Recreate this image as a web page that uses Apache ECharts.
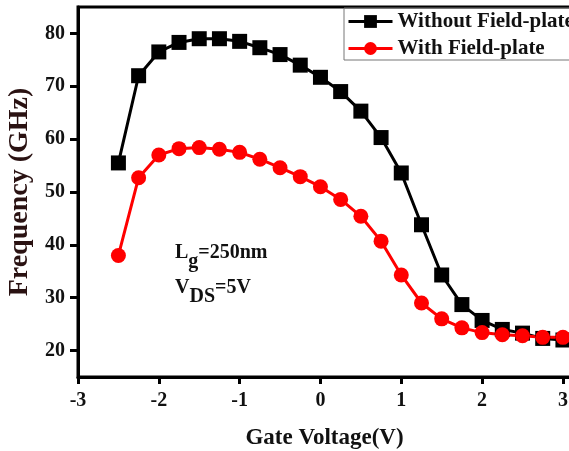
<!DOCTYPE html>
<html lang="en">
<head>
    <meta charset="UTF-8">
    <title>Frequency vs Gate Voltage</title>
    <script src="https://cdn.jsdelivr.net/npm/echarts@6/dist/echarts.min.js"></script>
    <style type="text/css">
        html, body { margin: 0; padding: 0; background: #fff; }
        #main { width: 569px; height: 451px; }
    </style>
</head>
<body>
    <div id="main"></div>
    <script type="text/javascript">
    // gate voltage (V)
    var gateVoltage = [-2.5, -2.25, -2, -1.75, -1.5, -1.25, -1, -0.75, -0.5, -0.25, 0, 0.25,
        0.5, 0.75, 1, 1.25, 1.5, 1.75, 2, 2.25, 2.5, 2.75, 3];
    // frequency (GHz)
    var withoutFP = [55.5, 72, 76.5, 78.3, 79, 79, 78.5, 77.3, 76, 74, 71.7, 69,
        65.3, 60.3, 53.6, 43.8, 34.3, 28.7, 25.7, 24, 23.3, 22.3, 22];
    var withFP = [38, 52.7, 57, 58.2, 58.4, 58.1, 57.5, 56.2, 54.6, 52.9, 51, 48.6,
        45.4, 40.7, 34.3, 29, 26, 24.3, 23.4, 23, 22.8, 22.5, 22.5];
    var xTicks = [-3, -2, -1, 0, 1, 2, 3];
    var yTicks = [20, 30, 40, 50, 60, 70, 80];

    function pairs(xs, ys) {
        return xs.map(function(x, i) { return [x, ys[i]]; });
    }

    var font = 'Liberation Serif';
    var myChart = echarts.init(document.getElementById('main'));

    var option = {
        backgroundColor: '#fff',
        animation: false,
        grid: {
            left: 78, top: 7, width: 493, height: 370,
            containLabel: false,
            outerBoundsMode: 'none',
            show: true, borderColor: '#000', borderWidth: 3
        },
        legend: {
            orient: 'vertical',
            left: 344, top: 8,
            padding: [3, 40, 1, 3],
            itemGap: 6,
            itemWidth: 44, itemHeight: 16,
            lineStyle: { width: 3 },
            borderColor: '#777', borderWidth: 1,
            textStyle: { fontFamily: font, fontWeight: 'bold', fontSize: 21, color: '#111' },
            data: ['Without Field-plate', 'With Field-plate']
        },
        xAxis: {
            type: 'value',
            min: -3, max: 3.1,
            name: 'Gate Voltage(V)',
            nameLocation: 'middle',
            nameGap: 50,
            nameTextStyle: { fontFamily: font, fontWeight: 'bold', fontSize: 23, color: '#111' },
            axisLine: { onZero: false, lineStyle: { color: '#000', width: 3 } },
            axisTick: { inside: false, length: 7, lineStyle: { width: 3 }, customValues: xTicks },
            axisLabel: { margin: 14, fontFamily: font, fontWeight: 'bold', fontSize: 20, color: '#111', customValues: xTicks },
            splitLine: { show: false }
        },
        yAxis: {
            type: 'value',
            min: 15, max: 85,
            name: 'Frequency (GHz)',
            nameLocation: 'middle',
            nameGap: 43,
            nameTextStyle: { fontFamily: font, fontWeight: 'bold', fontSize: 28, color: '#2a1212' },
            axisLine: { onZero: false, lineStyle: { color: '#000', width: 3 } },
            axisTick: { inside: false, length: 8, lineStyle: { width: 3 }, customValues: yTicks },
            axisLabel: { margin: 13, fontFamily: font, fontWeight: 'bold', fontSize: 20, color: '#111', customValues: yTicks },
            splitLine: { show: false }
        },
        graphic: [{
            type: 'text', left: 175, top: 243,
            style: {
                text: '{m|L}{s|g}{m|=250nm}',
                rich: {
                    m: { fontFamily: font, fontWeight: 'bold', fontSize: 20, fill: '#111', verticalAlign: 'top' },
                    s: { fontFamily: font, fontWeight: 'bold', fontSize: 20, fill: '#111', padding: [9, 0, 0, 0], verticalAlign: 'top' }
                }
            }
        }, {
            type: 'text', left: 175, top: 278,
            style: {
                text: '{m|V}{s|DS}{m|=5V}',
                rich: {
                    m: { fontFamily: font, fontWeight: 'bold', fontSize: 20, fill: '#111', verticalAlign: 'top' },
                    s: { fontFamily: font, fontWeight: 'bold', fontSize: 20, fill: '#111', padding: [9, 0, 0, 0], verticalAlign: 'top' }
                }
            }
        }],
        series: [{
            name: 'Without Field-plate',
            type: 'line',
            data: pairs(gateVoltage, withoutFP),
            symbol: 'rect', symbolSize: 15,
            showAllSymbol: true,
            itemStyle: { color: '#000' },
            lineStyle: { color: '#000', width: 3 }
        }, {
            name: 'With Field-plate',
            type: 'line',
            data: pairs(gateVoltage, withFP),
            symbol: 'circle', symbolSize: 15,
            showAllSymbol: true,
            itemStyle: { color: '#ff0000' },
            lineStyle: { color: '#ff0000', width: 3 }
        }]
    };

    myChart.setOption(option);
    </script>
</body>
</html>
